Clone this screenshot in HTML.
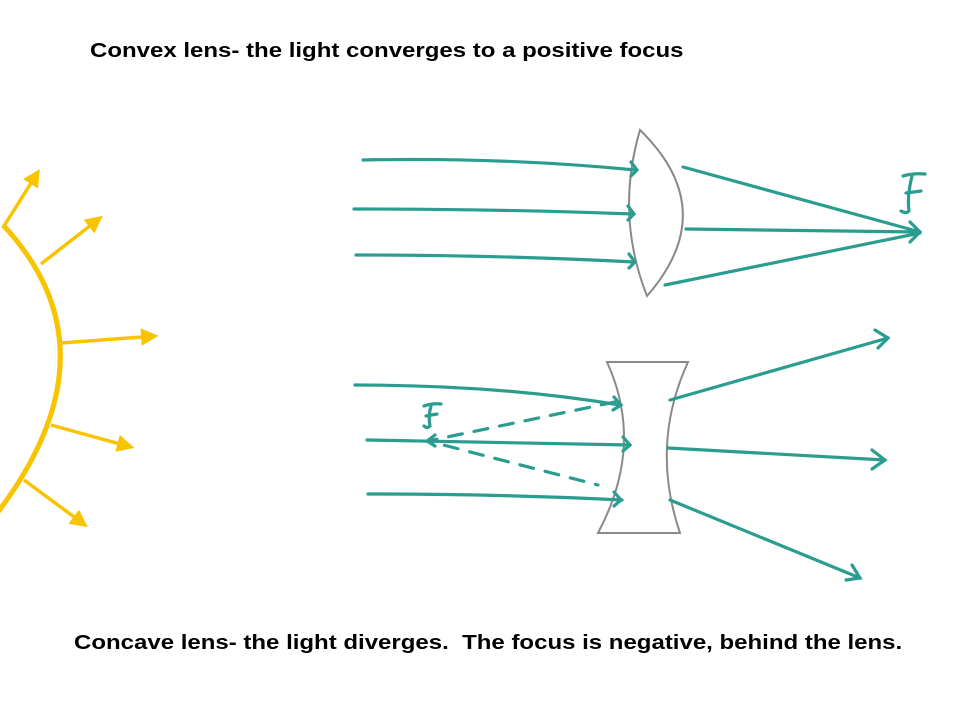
<!DOCTYPE html>
<html><head><style>
body{margin:0;width:960px;height:720px;background:#fff;overflow:hidden;position:relative;font-family:"Liberation Sans",Arial,sans-serif}
.t{position:absolute;font-weight:bold;font-size:20px;color:#000;white-space:nowrap;transform:scaleX(1.2);transform-origin:0 0}
</style></head><body>
<div class="t" style="left:90px;top:40px">Convex lens- the light converges to a positive focus</div>
<div class="t" style="left:74px;top:632px">Concave lens- the light diverges.&nbsp; The focus is negative, behind the lens.</div>
<svg width="960" height="720" style="position:absolute;left:0;top:0">
<defs>
<marker id="ya" markerWidth="5" markerHeight="5" refX="4" refY="2.5" orient="auto" markerUnits="strokeWidth"><path d="M0,0L5,2.5L0,5z" fill="#F8C400"/></marker>
</defs>
<g stroke="#F8C400" fill="none" stroke-width="3.5" marker-end="url(#ya)">
<line x1="4" y1="226" x2="38" y2="172"/>
<line x1="41" y1="264" x2="100" y2="218"/>
<line x1="61" y1="343" x2="155" y2="336"/>
<line x1="51" y1="425" x2="131" y2="447"/>
<line x1="24" y1="480" x2="85" y2="525"/>
</g>
<path d="M3,225 Q120,350 -2,512" stroke="#F8C400" stroke-width="5" fill="none"/>
<g stroke="#8a8a8a" stroke-width="2" fill="#fff">
<path d="M640,130 Q615,215 647,296 Q722,210 640,130z"/>
<path d="M607,362 L688,362 Q650,445 680,533 L598,533 Q645,445 607,362z"/>
</g>
<g stroke="#2a9d8f" stroke-width="3.2" fill="none" stroke-linecap="round">
<path d="M363,160 Q500,157 636,170"/>
<path d="M354,209 Q500,209 633,214"/>
<path d="M356,255 Q500,255 634,262"/>
<path d="M631,162 l6,8 l-6,6 M628,206 l6,8 l-6,6 M629,254 l6,8 l-6,6"/>
<line x1="683" y1="167" x2="920" y2="232"/>
<line x1="686" y1="229" x2="920" y2="232"/>
<line x1="665" y1="285" x2="920" y2="233"/>
<path d="M910,222 l10,10 l-10,10"/>
<path d="M903,176 q10,-3 22,-2 M912,176 q-5,20 -3,35 q-3,3 -8,0 M906,193 l15,-2"/>
<path d="M355,385 Q500,385 620,405"/>
<path d="M367,440 Q500,442 630,445"/>
<path d="M368,494 Q500,494 622,500"/>
<path d="M614,397 l7,8 l-8,5 M623,437 l7,8 l-7,6 M614,492 l7,8 l-7,6"/>
<line x1="670" y1="400" x2="888" y2="338"/>
<path d="M875,330 l13,8 l-10,10"/>
<line x1="668" y1="448" x2="885" y2="460"/>
<path d="M872,450 l13,10 l-13,9"/>
<line x1="670" y1="500" x2="860" y2="578"/>
<path d="M852,565 l8,13 l-14,2"/>
<path d="M437,441 l-10,0 l8,-6 M427,441 l8,5"/>
<path d="M424,406 q8,-3 17,-2 M431,406 q-3,10 -1,20 q-3,3 -6,0 M426,416 l11,-2"/>
<path d="M615,402 L428,441 L598,485" stroke-dasharray="14,12"/>
</g>
</svg>
</body></html>
